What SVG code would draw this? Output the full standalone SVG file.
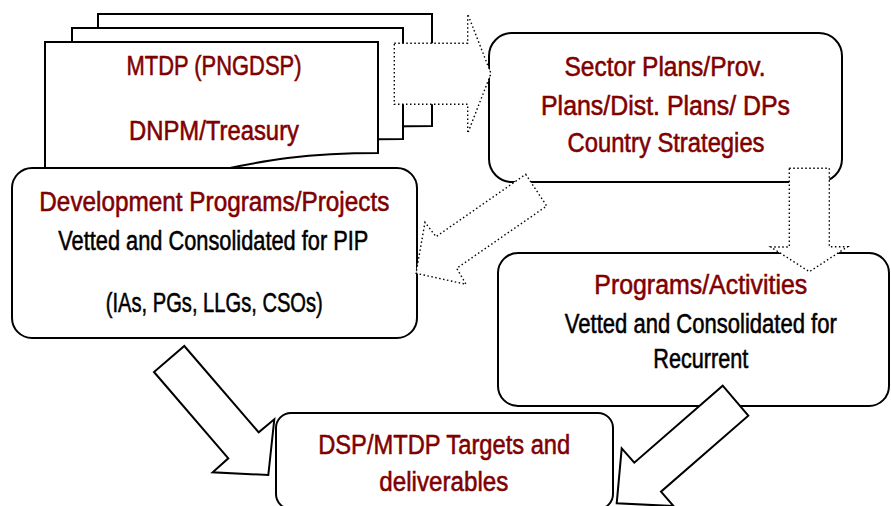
<svg xmlns="http://www.w3.org/2000/svg" width="891" height="506" viewBox="0 0 891 506">
  <style>
    .box { fill: #ffffff; stroke: #000000; stroke-width: 2; }
    .sheet { fill: #ffffff; stroke: #000000; stroke-width: 2; stroke-linejoin: miter; }
    .t { font-family: "Liberation Sans Narrow", "Arial Narrow", "Liberation Sans", Arial, sans-serif; font-size: 27px; text-anchor: middle; stroke-width: 0.55; }
    .red { fill: #800000; stroke: #800000; }
    .blk { fill: #000000; stroke: #000000; }
    .solid { fill: #ffffff; stroke: #000000; stroke-width: 2; stroke-linejoin: miter; }
    .dotted { fill: #ffffff; stroke: #000000; stroke-width: 1.4; stroke-dasharray: 1.5 2.5; }
  </style>

  <!-- Stack of plan documents -->
  <g id="mtdp">
    <path class="sheet" d="M98,14 H432 V126 C265,126 265,158 98,148 Z"/>
    <path class="sheet" d="M72,28 H403 V139 C237,139 237,171 72,160 Z"/>
    <path class="sheet" d="M45,42 H378 V153 C211,153 211,195 45,176 Z"/>
    <text class="t red" x="214" y="75" textLength="175" lengthAdjust="spacingAndGlyphs">MTDP (PNGDSP)</text>
    <text class="t red" x="214" y="140" textLength="170" lengthAdjust="spacingAndGlyphs">DNPM/Treasury</text>
  </g>

  <g id="sector-plans">
    <rect class="box" x="489" y="33" width="353" height="149" rx="23" ry="23"/>
    <text class="t red" x="665" y="76" textLength="201" lengthAdjust="spacingAndGlyphs">Sector Plans/Prov.</text>
    <text class="t red" x="665.5" y="115" textLength="249" lengthAdjust="spacingAndGlyphs">Plans/Dist. Plans/ DPs</text>
    <text class="t red" x="666" y="152" textLength="197" lengthAdjust="spacingAndGlyphs">Country Strategies</text>
  </g>

  <g id="dev-programs">
    <rect class="box" x="12" y="168" width="405" height="170" rx="20" ry="20"/>
    <text class="t red" x="214.3" y="211" textLength="350" lengthAdjust="spacingAndGlyphs">Development Programs/Projects</text>
    <text class="t blk" x="213.3" y="250" textLength="310" lengthAdjust="spacingAndGlyphs">Vetted and Consolidated for PIP</text>
    <text class="t blk" x="214.3" y="312" textLength="217" lengthAdjust="spacingAndGlyphs">(IAs, PGs, LLGs, CSOs)</text>
  </g>

  <g id="programs-activities">
    <rect class="box" x="498" y="253" width="391" height="153" rx="20" ry="20"/>
    <text class="t red" x="700.8" y="294" textLength="213" lengthAdjust="spacingAndGlyphs">Programs/Activities</text>
    <text class="t blk" x="700.8" y="333" textLength="272" lengthAdjust="spacingAndGlyphs">Vetted and Consolidated for</text>
    <text class="t blk" x="700.8" y="367.5" textLength="95" lengthAdjust="spacingAndGlyphs">Recurrent</text>
  </g>

  <g id="targets">
    <rect class="box" x="276" y="413" width="337" height="96" rx="15" ry="15"/>
    <text class="t red" x="444.2" y="453.5" textLength="252" lengthAdjust="spacingAndGlyphs">DSP/MTDP Targets and</text>
    <text class="t red" x="443.8" y="491" textLength="129" lengthAdjust="spacingAndGlyphs">deliverables</text>
  </g>

  <!-- Block arrows between the stages -->
  <g id="connectors">
    <path class="dotted" d="M394.3,43.3 H467.7 V14 L491,73.5 L467.7,133.3 V104.3 H394.3 Z"/>
    <path class="dotted" d="M789.3,168.3 H829.3 V246.7 H847.7 L809.3,271.7 L770.7,247 H789.3 Z"/>
    <path class="dotted" d="M525.7,174.3 L546.7,206 L456.7,268.3 L466,284.3 L416,273.3 L425,222.3 L436,236.7 Z"/>
    <path class="solid" d="M184.3,346 L258.7,432.3 L274.3,419.3 L268.3,475 L212.7,472.3 L228.3,458.3 L154,372 Z"/>
    <path class="solid" d="M722.7,385.7 L748.3,415.7 L661,491.7 L673.6,506.1 L616.7,503.3 L621.7,448.3 L634.3,462.7 Z"/>
  </g>
</svg>
